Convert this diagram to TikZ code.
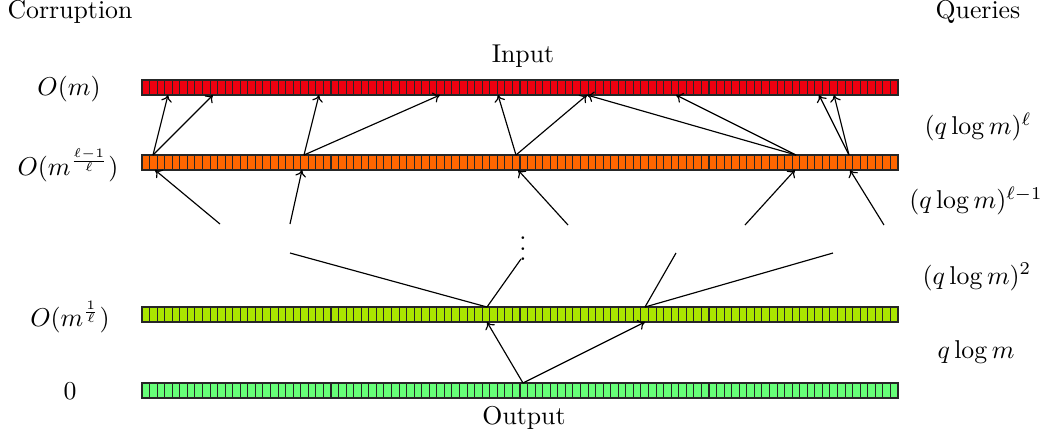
\documentclass[tikz,border=0pt]{standalone}
\usetikzlibrary{arrows.meta}
\definecolor{redc}{RGB}{238,0,16}
\definecolor{orangec}{RGB}{255,102,0}
\definecolor{limec}{RGB}{170,230,0}
\definecolor{greenc}{RGB}{102,255,120}
\tikzset{
  cell/.style={draw=black!85, line width=0.4pt},
  arr/.style={-{To[length=2.6pt,width=4.2pt]}, line width=0.45pt},
  ln/.style={line width=0.45pt},
  lbl/.style={inner sep=0pt, anchor=center}
}
\begin{document}
\begin{tikzpicture}[x=0.388pt, y=-0.388pt]
\useasboundingbox (0,0) rectangle (1048,436);
% bars
\foreach \yy/\cc in {80/redc, 155/orangec, 307/limec, 383/greenc}{
  \foreach \i in {0,...,99}{
    \draw[cell, fill=\cc] ({142+7.56*\i},\yy) rectangle ++(7.56,15);
  }
}
% labels
\node[lbl] (corr) at (70,12) {Corruption};
\node[lbl] (quer) at (978,12) {Queries};
\node[lbl] (inp) at (523,56) {Input};
\node[lbl] (outp) at (524,418) {Output};
\node[lbl] (l1) at (69,89) {$O(m)$};
\node[lbl] (l2) at (68,165) {$O(m^{\frac{\ell-1}{\ell}})$};
\node[lbl] (l3) at (70,317) {$O(m^{\frac{1}{\ell}})$};
\node[lbl] (l4) at (70,391) {$0$};
\node[lbl] (r1) at (978,127) {$(q\log m)^{\ell}$};
\node[lbl] (r2) at (976,201) {$(q\log m)^{\ell-1}$};
\node[lbl] (r3) at (977,277) {$(q\log m)^{2}$};
\node[lbl] (r4) at (976,352) {$q\log m$};
\node[lbl] (dots) at (523,241) {$\vdots$};
% orange top sources (y=155) and red bottom targets (y=95)
\coordinate (oA) at (153,155);
\coordinate (oB) at (304,155);
\coordinate (oC) at (516,155);
\coordinate (oD) at (796,155);
\coordinate (oE) at (849,155);
\coordinate (rA) at (168,95);
\coordinate (rB) at (213,95);
\coordinate (rC) at (319,95);
\coordinate (rD) at (440,95);
\coordinate (rE) at (498,95);
\coordinate (rF) at (587,95);
\coordinate (rG) at (676,95);
\coordinate (rH) at (819,95);
\coordinate (rI) at (834,95);
\draw[arr] (oA) -- (rA);
\draw[arr] (oA) -- (rB);
\draw[arr] (oB) -- (rC);
\draw[arr] (oB) -- (rD);
\draw[arr] (oC) -- (rE);
\draw[arr] (oC) -- (rF);
\draw[arr] (oD) -- (rF);
\draw[arr] (oD) -- (rG);
\draw[arr] (oE) -- (rH);
\draw[arr] (oE) -- (rI);
% arrows into orange bottom (y=170)
\coordinate (bA) at (155,170);
\coordinate (bB) at (302,170);
\coordinate (bC) at (518,170);
\coordinate (bD) at (795,170);
\coordinate (bE) at (850,170);
\coordinate (sA) at (220,224);
\coordinate (sB) at (290,224);
\coordinate (sC) at (568,225);
\coordinate (sD) at (745,225);
\coordinate (sE) at (884,225);
\draw[arr] (sA) -- (bA);
\draw[arr] (sB) -- (bB);
\draw[arr] (sC) -- (bC);
\draw[arr] (sD) -- (bD);
\draw[arr] (sE) -- (bE);
% lines into lime top (y=307)
\coordinate (gA) at (487,307);
\coordinate (gB) at (645,307);
\coordinate (tA) at (290,253);
\coordinate (tB) at (521,259);
\coordinate (tC) at (676,253);
\coordinate (tD) at (833,253);
\draw[ln] (tA) -- (gA);
\draw[ln] (tB) -- (gA);
\draw[ln] (tC) -- (gB);
\draw[ln] (tD) -- (gB);
% green top to lime bottom
\coordinate (gr) at (523,383);
\coordinate (lA) at (487,322);
\coordinate (lB) at (645,322);
\draw[arr] (gr) -- (lA);
\draw[arr] (gr) -- (lB);
\end{tikzpicture}
\end{document}
